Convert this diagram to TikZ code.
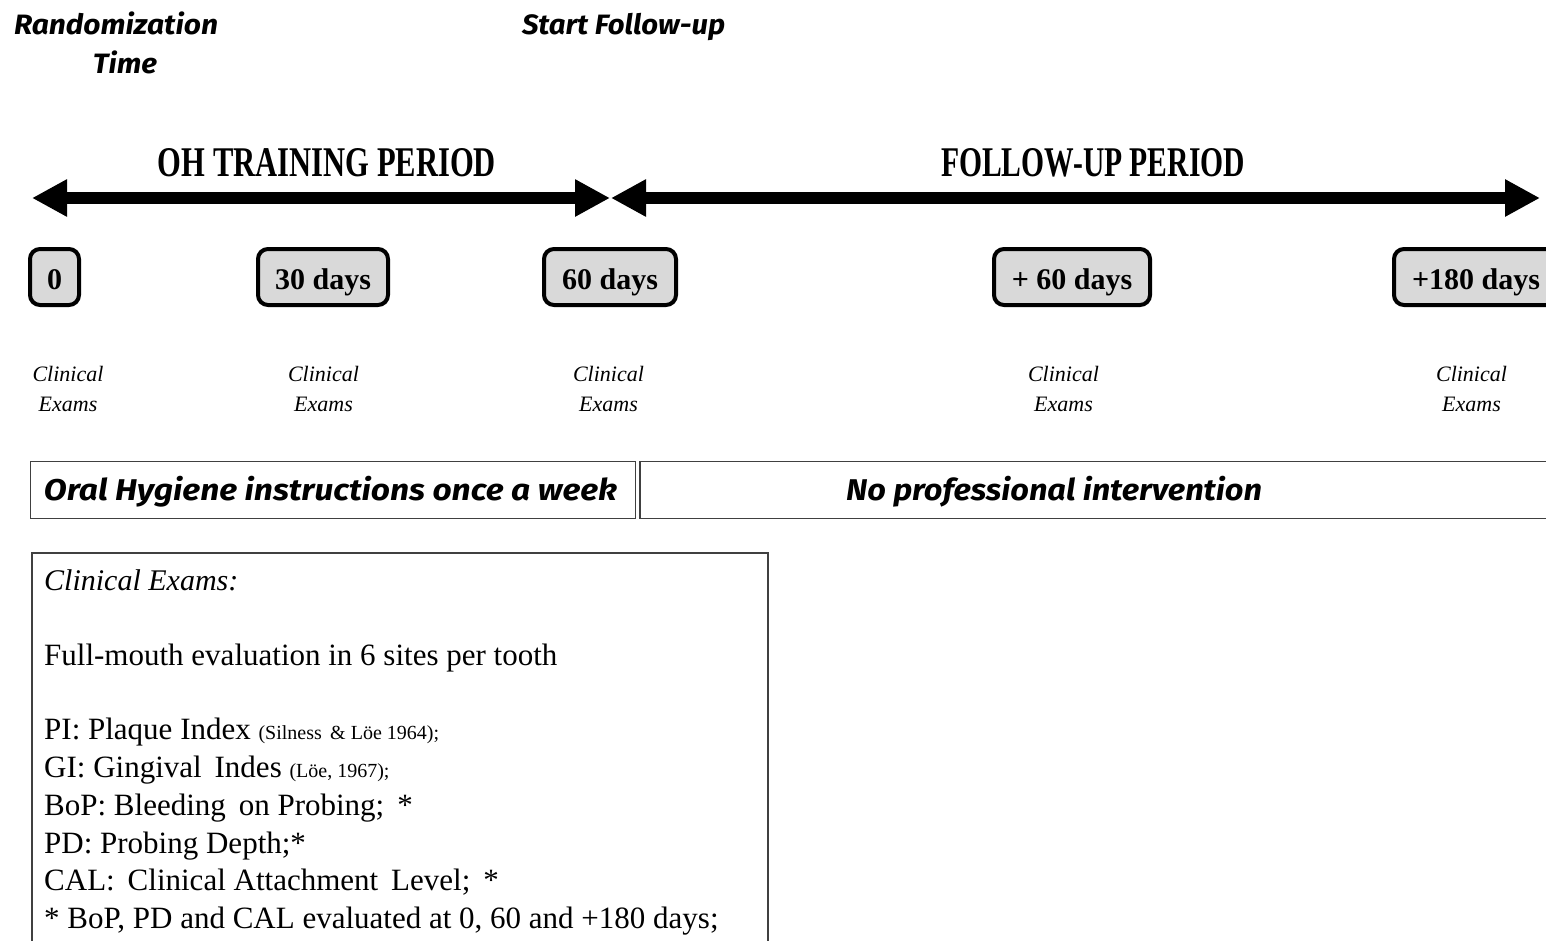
\documentclass[tikz,border=0pt]{standalone}
\usepackage{fontspec}
\setmainfont{Liberation Serif}
\newfontfamily\handfont{Fira Sans}
\usetikzlibrary{arrows.meta}
\newcommand\fitw[2]{\resizebox{#1}{\height}{#2}}
\newcommand\fitwh[3]{\resizebox{#1}{#2}{#3}}
\definecolor{boxgray}{HTML}{D9D9D9}
\definecolor{boxline}{HTML}{404040}
\begin{document}
\begin{tikzpicture}[x=1pt,y=-1pt,
  bigarrow/.style={line width=11.5pt,{Triangle[length=35pt,width=35pt]}-{Triangle[length=35pt,width=35pt]}},
  daybox/.style={draw=black,line width=4pt,rounded corners=10pt,fill=boxgray,
    font=\bfseries\fontsize{30}{30}\selectfont,minimum height=56pt,inner sep=0pt,
    text height=24pt,text depth=0pt},
  exam/.style={align=center,inner sep=0pt,font=\itshape\fontsize{22}{30}\selectfont},
  hand/.style={font=\handfont\bfseries\itshape\fontsize{28}{28}\selectfont,inner sep=0pt,anchor=base},
  title/.style={font=\bfseries\fontsize{40}{40}\selectfont,inner sep=0pt,anchor=base},
  plainbox/.style={draw=boxline,line width=1.5pt,minimum height=57pt,inner sep=0pt},
  body/.style={anchor=base west,inner sep=0pt,font=\fontsize{31}{31}\selectfont}]
\useasboundingbox (0,0) rectangle (1546,940);
\clip (0,0) rectangle (1546,940);
% top labels
\node[hand] (rand) at (116,34) {\fitw{204pt}{Randomization}};
\node[hand] (time) at (125,73) {\fitw{64pt}{Time}};
\node[hand] (start) at (623.5,34) {\fitw{203pt}{Start Follow-up}};
% period titles
\node[title] (oh) at (327,176) {\fitwh{338pt}{28pt}{OH TRAINING PERIOD}};
\node[title] (fu) at (1093,176) {\fitwh{304pt}{28pt}{FOLLOW-UP PERIOD}};
% arrows
\coordinate (a1s) at (32,198);
\coordinate (a1e) at (610,198);
\coordinate (a2s) at (611,198);
\coordinate (a2e) at (1540,198);
\draw[bigarrow] (a1s) -- (a1e);
\draw[bigarrow] (a2s) -- (a2e);
% day boxes
\node[daybox,minimum width=49pt] (d0) at (54.5,277) {0};
\node[daybox,minimum width=130pt] (d30) at (323,277) {30 days};
\node[daybox,minimum width=132pt] (d60) at (610,277) {60 days};
\node[daybox,minimum width=156pt] (dp60) at (1072,277) {+ 60 days};
\node[daybox,minimum width=164pt] (dp180) at (1476,277) {+180 days};
% clinical exams labels
\node[exam] (e0) at (68,389) {Clinical\\Exams};
\node[exam] (e30) at (323.5,389) {Clinical\\Exams};
\node[exam] (e60) at (608.5,389) {Clinical\\Exams};
\node[exam] (ep60) at (1063.5,389) {Clinical\\Exams};
\node[exam] (ep180) at (1471.5,389) {Clinical\\Exams};
% intervention boxes
\node[plainbox,minimum width=605pt] (ohi) at (333,490) {};
\node[hand] (ohitext) at (330.5,500) {\fitw{573pt}{\fontsize{30}{30}\selectfont Oral Hygiene instructions once a week}};
\node[plainbox,minimum width=920pt] (npi) at (1100,490) {};
\node[hand] (npitext) at (1054,500) {\fitw{416pt}{\fontsize{30}{30}\selectfont No professional intervention}};
% info box
\node[draw=boxline,line width=1.5pt,anchor=north west,minimum width=736pt,minimum height=420pt,inner sep=0pt] (info) at (31,552) {};
\node[body,font=\itshape\fontsize{30}{30}\selectfont] (l1) at (44,590) {Clinical Exams:};
\node[body] (l2) at (44,665) {Full-mouth evaluation in 6 sites per tooth};
\node[body] (l3) at (44,739) {PI: Plaque Index {\fontsize{20}{20}\selectfont (Silness \,\& Löe 1964);}};
\node[body] (l4) at (44,777) {GI: Gingival \,Indes {\fontsize{20}{20}\selectfont (Löe, 1967);}};
\node[body] (l5) at (44,815) {BoP: Bleeding \,on Probing; \,*};
\node[body] (l6) at (44,853) {PD: Probing Depth;*};
\node[body] (l7) at (44,890) {CAL: \,Clinical Attachment \,Level; \,*};
\node[body] (l8) at (44,928) {* BoP, PD and CAL evaluated at 0, 60 and +180 days;};
\end{tikzpicture}
\end{document}
